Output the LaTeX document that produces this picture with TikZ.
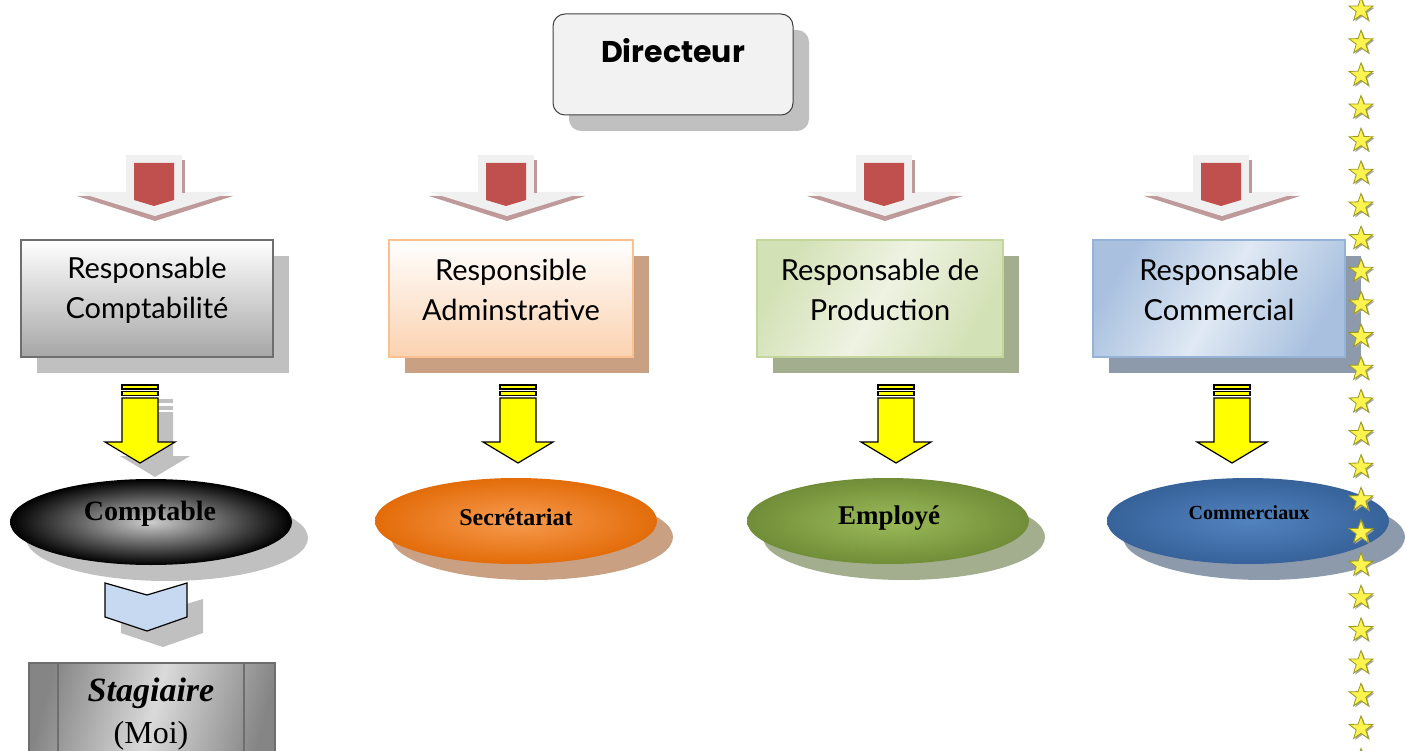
\documentclass[tikz,border=0pt]{standalone}
\usepackage{fontspec}
\usetikzlibrary{shapes.geometric}
\newfontfamily\dirfont{Poppins}
\newfontfamily\handfont{Lato}
\newfontfamily\serfont{Liberation Serif}
\definecolor{shgray}{HTML}{C0C0C0}
\definecolor{dirfill}{HTML}{F2F2F2}
\definecolor{dirline}{HTML}{404040}
\definecolor{redfill}{HTML}{C0504D}
\definecolor{redsh}{HTML}{BE9A9A}
\definecolor{shaftgray}{HTML}{F0F0F0}
\definecolor{graybox}{HTML}{A6A6A6}
\definecolor{grayline}{HTML}{6E6E6E}
\definecolor{orline}{HTML}{FAC090}
\definecolor{orbot}{HTML}{FBD2B0}
\definecolor{orsh}{HTML}{C9A082}
\definecolor{grline}{HTML}{C3D69B}
\definecolor{grfill}{HTML}{D3E1B6}
\definecolor{grmid}{HTML}{EEF3E2}
\definecolor{grsh}{HTML}{A3AE8E}
\definecolor{blline}{HTML}{95B3D7}
\definecolor{blfill}{HTML}{A9C1DF}
\definecolor{blmid}{HTML}{E0E9F4}
\definecolor{blsh}{HTML}{8D9AAB}
\definecolor{arrowyel}{HTML}{FFFF00}
\definecolor{ellorin}{HTML}{F79B50}
\definecolor{elloro}{HTML}{E36C09}
\definecolor{ellgrin}{HTML}{9BBB59}
\definecolor{ellgro}{HTML}{718D38}
\definecolor{ellblin}{HTML}{5283BF}
\definecolor{ellblo}{HTML}{37629A}
\definecolor{lblue}{HTML}{C6D9F1}
\definecolor{stgdark}{HTML}{858585}
\definecolor{stglight}{HTML}{DADADA}
\definecolor{starfill}{HTML}{FFF44F}
\definecolor{starline}{HTML}{9A9A1A}
\begin{document}
\begin{tikzpicture}[x=1pt,y=-1pt,
  respbox/.style={line width=2pt, minimum height=117pt, inner sep=0pt},
  resptext/.style={font=\handfont\fontsize{29}{40}\selectfont, align=center},
  ellbox/.style={ellipse, minimum width=282pt, minimum height=86pt, inner sep=0pt},
  elltext/.style={font=\serfont\bfseries\fontsize{#1}{#1}\selectfont},
  starnode/.style={star, star points=5, star point ratio=2.5, minimum size=25pt, inner sep=0pt},
  redarrow/.pic={
    \fill[redsh] (-78,196) -- (78,196) -- (0,221) -- cycle;
    \fill[shaftgray] (-78,192) -- (78,192) -- (0,216) -- cycle;
    \fill[shaftgray] (-29,155) rectangle (27,193);
    \fill[redsh] (27,160) rectangle (29.5,193);
    \fill[redfill] (-21,163) -- (19,163) -- (19,200) -- (-1,206) -- (-21,200) -- cycle;
  },
  yelarrow/.pic={
    \draw[line width=1.2pt, fill=arrowyel] (-18,385) rectangle (18,389);
    \draw[line width=1.2pt, fill=arrowyel] (-18,391.5) rectangle (18,395.5);
    \draw[line width=1.2pt, fill=arrowyel, line join=miter] (-18,398) -- (18,398) -- (18,442) -- (35,442) -- (0,463) -- (-35,442) -- (-18,442) -- cycle;
  },
  yelshadow/.pic={
    \fill[shgray] (-18,385) rectangle (18,389);
    \fill[shgray] (-18,391.5) rectangle (18,395.5);
    \fill[shgray] (-18,398) -- (18,398) -- (18,442) -- (35,442) -- (0,463) -- (-35,442) -- (-18,442) -- cycle;
  }]
\useasboundingbox (0,0) rectangle (1406,751);
\clip (0,0) rectangle (1406,751);

% Directeur
\fill[shgray, rounded corners=12pt] (569,30) rectangle (809,131);
\node[draw=dirline, fill=dirfill, rounded corners=12pt, line width=1pt, minimum width=240pt, minimum height=101pt, inner sep=0pt] (dir) at (673,64.5) {};
\node[font=\dirfont\bfseries\fontsize{30}{34}\selectfont] (dirt) at (673,51) {Directeur};

% red arrows
\foreach \cx in {155,507,885,1222} \pic at (\cx,0) {redarrow};

% responsible boxes: shadows
\fill[shgray] (37,256) rectangle (289,373);
\fill[orsh] (405,256) rectangle (649,373);
\fill[grsh] (773,256) rectangle (1019,373);
\fill[blsh] (1109,256) rectangle (1361,373);

\node[respbox, minimum width=252pt, draw=grayline, top color=white, bottom color=graybox] (rc) at (147,298.5) {};
\node[respbox, minimum width=244pt, draw=orline, top color=white, bottom color=orbot] (ra) at (511,298.5) {};
\node[respbox, minimum width=246pt, draw=grline, shade, left color=grfill, right color=grfill, middle color=grmid, shading angle=60] (rp) at (880,298.5) {};
\node[respbox, minimum width=252pt, draw=blline, shade, left color=blfill, right color=blfill, middle color=blmid, shading angle=60] (rm) at (1219,298.5) {};

\node[resptext] (rct) at (147,290) {Responsable\\Comptabilité};
\node[resptext] (rat) at (511,290) {Responsible\\Adminstrative};
\node[resptext] (rpt) at (880,290) {Responsable de\\Production};
\node[resptext] (rmt) at (1219,290) {Responsable\\Commercial};

% yellow arrows
\pic at (155,14) {yelshadow};
\foreach \cx in {140,518,896,1232} \pic at (\cx,0) {yelarrow};

% ellipses: shadows
\fill[shgray] (167,538) ellipse (141pt and 43pt);
\fill[orsh] (532,537) ellipse (141pt and 43pt);
\fill[grsh] (904,537) ellipse (141pt and 43pt);
\fill[blsh] (1264,537) ellipse (141pt and 43pt);

\node[ellbox, shade, inner color=shgray!80!white, outer color=black] (ec) at (151,522) {};
\node[ellbox, shade, inner color=ellorin, outer color=elloro] (es) at (516,521) {};
\node[ellbox, shade, inner color=ellgrin, outer color=ellgro] (ee) at (888,521) {};
\node[ellbox, shade, inner color=ellblin, outer color=ellblo] (em) at (1248,521) {};

\node[elltext=28] (ect) at (150,514) {Comptable};
\node[elltext=24] (est) at (516,517) {Secrétariat};
\node[elltext=27] (eet) at (889,518) {Employé};
\node[elltext=20] (emt) at (1249,513) {Commerciaux};

% light blue chevron
\fill[shgray] (121,599) -- (163,611) -- (203,599) -- (203,633) -- (163,647) -- (121,633) -- cycle;
\draw[line width=1.2pt, fill=lblue, line join=miter] (105,583) -- (147,595) -- (187,583) -- (187,617) -- (147,631) -- (105,617) -- cycle;

% Stagiaire
\node[draw=grayline, line width=2pt, shade, left color=stgdark, right color=stgdark, middle color=stglight, shading angle=75, minimum width=246pt, minimum height=110pt, inner sep=0pt, anchor=north west] (stg) at (28,662) {};
\draw[grayline, line width=1.5pt] (58,662) -- (58,760);
\draw[grayline, line width=1.5pt] (244,662) -- (244,760);
\node[font=\serfont\bfseries\itshape\fontsize{34}{38}\selectfont] (stg1) at (151,693) {Stagiaire};
\node[font=\serfont\fontsize{32}{36}\selectfont] (stg2) at (151,736) {(Moi)};

% stars
\foreach \i in {0,...,23} {
  \node[starnode, fill=gray!70] (ss\i) at (1362.5,{11.5+32.65*\i}) {};
  \node[starnode, fill=starfill, draw=starline, line width=0.8pt] (s\i) at (1361,{10+32.65*\i}) {};
}
\end{tikzpicture}
\end{document}
